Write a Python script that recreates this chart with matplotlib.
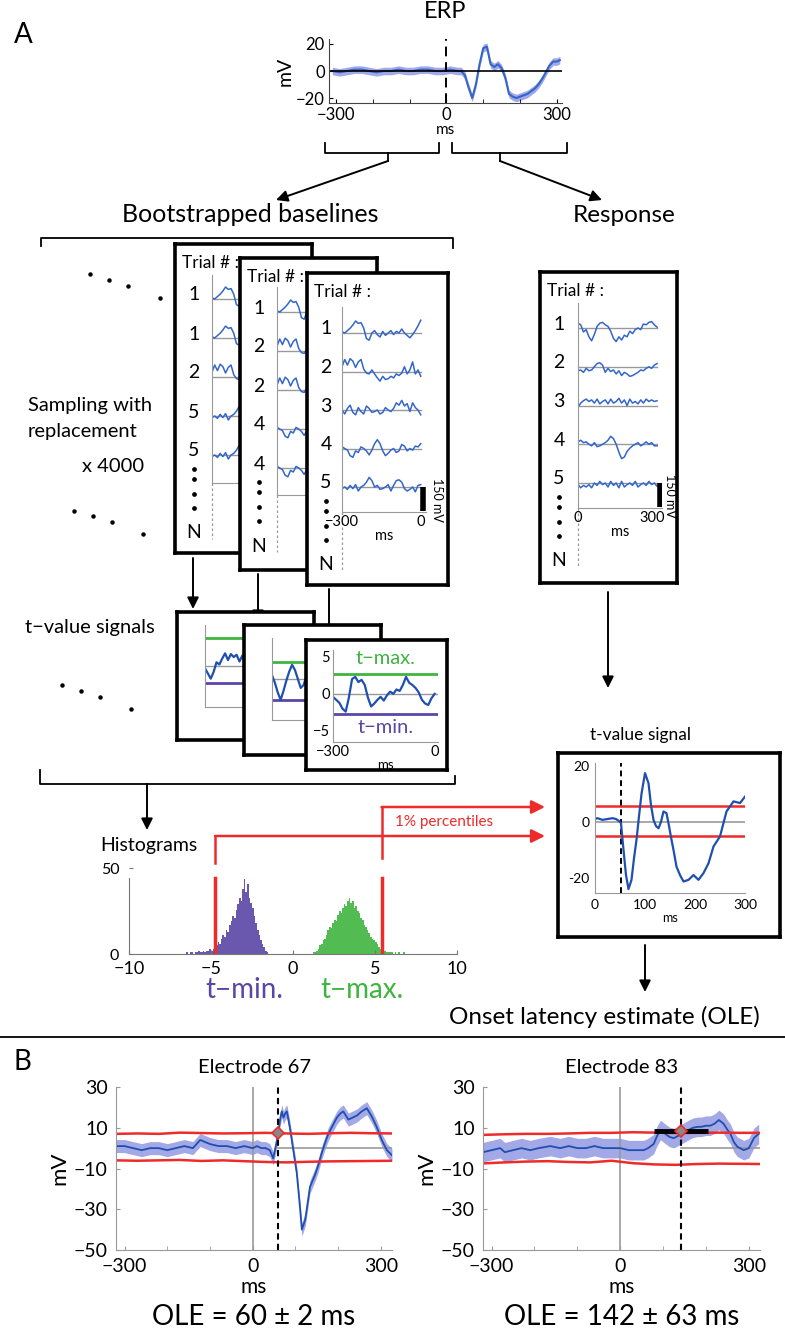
import numpy as np
import matplotlib.pyplot as plt

plt.rcParams['font.family'] = ['Lato', 'DejaVu Sans']

# ---------------- data ----------------
# grand average ERP (top)
erp_t = [-310, -290, -270, -250, -230, -210, -190, -170, -150, -130, -110, -90, -70, -50, -30, -10,
         10, 30, 40, 50, 60, 70, 80, 90, 100, 110, 120, 130, 140, 150, 160, 170, 180, 190, 200,
         210, 220, 230, 240, 250, 260, 270, 280, 290, 300, 308]
erp_v = [0, -1, 0, 1, 1, 0, -1, 0, 0, 1, 0, 0, 1, 1, 0, 0,
         1, 0, 0, -3, -12, -20, -10, 5, 17, 18, 5, 3, 5, 2, -5, -17, -19, -20, -19,
         -18, -17, -15, -13, -10, -6, -1, 4, 7, 7, 8]
erp_sem = 2.8

# single trials (-300..0 ms baseline, mV)
trial_1 = [8, 0, 15, 30, 50, 75, 60, 65, 30, -35, -45, 0, 15, -10, -25, 10, -15, 0, 15, -10,
           10, 0, 25, 0, -15, -30, -10, 15, 45, 80]
trial_2 = [30, 75, 40, 80, 65, 25, 60, 75, 15, -10, -15, 10, -15, -40, -60, -30, -50, -45, -30, -40,
           -15, -25, -10, 30, -15, 10, 60, -15, 10, -30]
trial_3 = [0, -25, 10, 30, -15, -30, 15, -10, -25, 25, 10, -15, -10, 0, -25, -15, 15, 0, -10, 10,
           45, 30, 60, 25, 40, -10, 45, 15, 0, -30]
trial_4 = [10, 0, -10, -45, -55, -15, -25, 10, 0, -15, -40, -10, 30, 55, 30, -15, -45, -30, -10, 0,
           -25, -15, 25, 15, -15, 0, -10, 15, 10, 30]
trial_5 = [-10, 0, -15, 10, -10, 15, -25, 0, 10, 30, 60, 40, 0, 10, -15, -10, 0, 15, -25, 10,
           40, 45, 30, -10, -25, -15, 0, -30, 10, 15]
boot_sets = [[1, 1, 2, 5, 5], [1, 2, 2, 4, 4], [1, 2, 3, 4, 5]]

# response trials (0..300 ms)
resp_1 = [30, 20, -25, -10, -55, -80, -40, 10, 30, 35, 20, 10, -20, -65, -85, -55, -75, -45, -55, -20,
          -35, -10, 0, -10, 25, 20, 35, 40, 20, 5]
resp_2 = [-25, -20, -35, -10, -25, -20, 0, 20, 25, 10, -35, -10, -30, -20, -45, -25, -55, -35, -45, -60,
          -55, -45, -35, -20, -25, -10, 0, -10, 10, 20]
resp_3 = [-10, 15, 30, 40, 25, 35, 15, 40, 10, 25, 35, 10, 40, 15, 25, 45, 15, 35, 0, 40,
          15, 25, 10, 35, 15, 40, 25, 35, 25, 30]
resp_4 = [15, 25, 10, 15, 0, -10, 10, -15, -10, 0, 10, 25, 50, 35, 0, -50, -90, -80, -45, -25,
          -10, 0, 10, -10, 0, 15, 0, 10, -10, -10]
resp_5 = [-10, -30, -15, -25, -10, -30, 0, -15, 10, -10, 0, -25, 10, -15, 0, -30, 10, -25, -10, 0,
          -15, 10, -25, -10, 0, -15, 10, -10, 0, -20]

# bootstrapped t-value signals
tval_1 = [-0.3, -1.0, -1.7, -0.8, 0.5, 0.2, 1.0, 1.7, 0.8, 1.6, 1.2, 1.5, 0.6, 1.4, 0.2, -0.5,
          0.6, 1.0, -0.3, 0.4, 1.2, 0.5, -0.8, -0.2, 0.8, 1.5, 0.7, 0.0, -1.0, -0.4, 0.5, 0.2, -0.6]
tval_2 = [0.5, -0.5, -1.8, -2.8, -1.6, -0.2, 1.0, 1.9, 1.2, 0.0, -1.2, -0.8, 0.4, 1.1, 0.3, -0.6,
          0.9, 1.6, 0.7, -0.4, 0.2, 1.3, 0.5, -1.0, -0.3, 0.6, -0.2, 0.9, 1.4, 0.3, -0.7, 0.1, 0.8]
tval_3 = [-0.4, -0.8, -1.2, -2.0, -2.4, -0.5, 2.0, 2.3, 1.6, 1.9, 1.2, -0.5, -1.7, -1.3, -0.8, -0.4,
          -0.9, -0.2, 0.3, 0.0, 0.6, 0.4, 1.2, 2.3, 1.5, 1.2, 0.8, 0.2, -0.8, -1.3, -1.5, -0.6, 0.0]
tmax_lines = [3.7, 2.3, 2.7]
tmin_lines = [-2.3, -2.8, -2.7]

# histograms of t-min / t-max (bin width 0.1)
hmin_start = -6.6
hmin_counts = [0, 1, 0, 1, 1, 0, 1, 1, 2, 1, 1, 2, 1, 2, 2, 3, 2, 3,
               4, 5, 7, 6, 9, 11, 10, 14, 13, 17, 19, 22, 21, 26, 29, 33, 31, 38, 44, 36,
               41, 33, 30, 27, 22, 18, 14, 11, 8, 6, 4, 2, 1, 0]
hmax_start = 1.2
hmax_counts = [1, 1, 2, 3, 5, 6, 8, 9, 11, 14, 16, 15, 18, 20, 19, 23, 25, 24, 27, 29,
               28, 31, 33, 30, 31, 27, 28, 25, 24, 21, 20, 17, 16, 14, 12, 10, 9, 8, 7, 6,
               4, 3, 3, 2, 2, 1, 1, 1, 1, 0, 1, 0, 1, 0, 0, 1, 0, 0, 0, 0]
pct_lo, pct_hi = -4.75, 5.4

# response t-value signal
sig_t = [0, 5, 15, 25, 35, 42, 48, 52, 57, 62, 67, 73, 78, 83, 88, 93, 100, 107, 112, 117, 122, 127,
         132, 137, 143, 148, 153, 158, 163, 170, 177, 187, 197, 207, 217, 227, 237, 250, 263, 277,
         290, 300]
sig_v = [1.0, 1.3, 0.7, 1.0, 1.3, 1.0, 0.3, -0.5, -10, -19, -24, -20.7, -13, -6.4, 2, 10, 17.4,
         13.8, 6, 0.7, -1.5, -2.3, 0, 3.7, 3.1, -1.5, -6.4, -11, -16, -19, -21.3, -20.7, -19,
         -20.7, -18.3, -14.8, -8.8, -5.2, 3.7, 7.3, 6.7, 9]
sig_hi, sig_lo, sig_ole = 5.7, -5.0, 52

# panel B
e67_t = [-320, -300, -280, -260, -240, -220, -200, -180, -160, -140, -123, -100, -80, -60, -40, -20,
         0, 10, 20, 30, 40, 48, 55, 60, 64, 68, 72, 76, 80, 87, 95, 103, 111, 115, 123, 134, 146,
         154, 162, 170, 177, 187, 197, 205, 212, 224, 234, 244, 255, 267, 280, 290, 302, 314, 326]
e67_v = [1, 1, 0, -1, 0, 0, -1, 0, 1, 0, 4, 2, 1, 1, 0, 1,
         0, 1, 0, 0, -1, -5, 2, 7.5, 14, 18, 15, 17, 18, 10, -1, -12, -30, -40, -35, -19, -13,
         -8, -2, 3, 7, 11, 15, 17, 18, 14, 15, 16, 18, 19.6, 15, 10.5, 4, -1, -3.5]
e83_t = [-320, -300, -280, -269, -250, -230, -210, -190, -163, -140, -120, -100, -80, -60, -40, -20,
         0, 20, 40, 55, 65, 78, 86, 94, 105, 115, 125, 135, 148, 160, 170, 179, 190, 200, 210,
         220, 230, 241, 250, 257, 265, 273, 288, 300, 312, 323]
e83_v = [-2, -1, 0, -2, -1, 0, -1, 0, 1, 0, 1, 0, 0, 1, 0, 0,
         0, -1, -1, -1, 0, 2, 6, 8.9, 7, 5.5, 4.9, 6, 7.5, 9, 10, 10.4, 10.5, 11, 11,
         12, 13.8, 12, 9, 7, 3, 0.7, -1, 0, 5, 7]
e67_sem, e83_sem = 3.2, 4.8
thr_t = [-320, -270, -220, -170, -120, -70, -20, 30, 80, 130, 180, 230, 280, 326]
e67_hi = [7.0, 7.2, 7.0, 7.6, 7.4, 7.2, 7.3, 7.5, 7.2, 7.0, 7.3, 7.5, 7.3, 7.2]
e67_lo = [-6.0, -6.2, -6.0, -5.8, -6.3, -6.0, -6.4, -6.8, -7.0, -6.7, -6.5, -6.4, -6.3, -6.2]
e83_hi = [6.5, 6.8, 7.0, 7.0, 7.2, 7.5, 7.5, 7.8, 7.6, 7.4, 7.5, 7.6, 7.5, 7.5]
e83_lo = [-7.5, -7.0, -6.6, -6.4, -6.8, -7.0, -6.2, -7.4, -8.0, -8.2, -7.8, -7.6, -7.7, -7.8]
ole_ms = [60, 142]
ole_err = [2, 63]
ole_amp = [7.5, 8.5]

# ---------------- figure ----------------
W, H = 785, 1330
fig = plt.figure(figsize=(W / 100, H / 100), dpi=100)

BLUE = '#3366cc'
DBLUE = '#1f4fb0'
SHADE = '#a3a8e6'
RED = '#ee2a2a'
GREEN = '#3fb43f'
PURPLE = '#5a46a6'
GRAY = '#999999'


def px_axes(x0, y0, x1, y1, z):
    return fig.add_axes([x0 / W, 1 - y1 / H, (x1 - x0) / W, (y1 - y0) / H], zorder=z)


def boxed(x0, y0, x1, y1, z):
    b = px_axes(x0, y0, x1, y1, z)
    b.set_xlim(x0, x1)
    b.set_ylim(y1, y0)
    b.set_xticks([])
    b.set_yticks([])
    for s in b.spines.values():
        s.set_linewidth(2.6)
    b.set_facecolor('white')
    return b


def inner(x0, y0, x1, y1, z):
    a = px_axes(x0, y0, x1, y1, z)
    a.patch.set_alpha(0)
    a.spines[['top', 'right']].set_visible(False)
    a.spines[['left', 'bottom']].set_color(GRAY)
    a.tick_params(length=0, labelsize=10.5, pad=2)
    return a


bg = px_axes(0, 0, W, H, 0)
bg.set_xlim(0, W)
bg.set_ylim(H, 0)
bg.axis('off')


def arrow(x0, y0, x1, y1, color='k', lw=1.4, ms=17):
    bg.annotate('', xy=(x1, y1), xytext=(x0, y0),
                arrowprops=dict(arrowstyle='-|>', color=color, lw=lw, mutation_scale=ms,
                                shrinkA=0, shrinkB=0))


def dots(pts):
    for x, y in pts:
        bg.plot(x, y, 'o', color='k', ms=2.2)


# ---- labels & connectors ----
bg.text(14, 35, 'A', fontsize=20, va='center')
bg.text(445, 12, 'ERP', fontsize=17, ha='center', va='center')
bg.plot([325, 325, 439, 439], [143, 153, 153, 143], 'k', lw=1.3)
bg.plot([388, 388], [153, 161], 'k', lw=1.3)
bg.plot([452, 452, 567, 567], [143, 153, 153, 143], 'k', lw=1.3)
bg.plot([500, 500], [153, 161], 'k', lw=1.3)
arrow(388, 161, 276, 200)
arrow(500, 161, 602, 200)
bg.text(250, 215, 'Bootstrapped baselines', fontsize=18, ha='center', va='center')
bg.text(624, 215, 'Response', fontsize=17.5, ha='center', va='center')
bg.plot([41, 41, 453, 453], [246, 238, 238, 248], 'k', lw=1.3)
dots([(90, 274), (109, 280), (128, 286), (160, 298)])
bg.text(28, 405, 'Sampling with', fontsize=14.5, va='center')
bg.text(28, 432, 'replacement', fontsize=14.5, va='center')
bg.text(82, 467, 'x 4000', fontsize=14.5, va='center')
dots([(74, 511), (93, 516), (112, 522), (143, 534)])
arrow(193, 558, 193, 609)
arrow(258, 574, 258, 622)
arrow(329, 589, 329, 637)
bg.text(25, 627, 't\u2212value signals', fontsize=14.5, va='center')
dots([(62, 685), (81, 691), (100, 697), (131, 709)])
bg.plot([40, 40, 455, 455], [770, 784, 784, 776], 'k', lw=1.3)
arrow(147, 784, 147, 830)
bg.text(100, 845, 'Histograms', fontsize=14, va='center')
arrow(608, 592, 608, 688)
bg.text(641, 735, 't-value signal', fontsize=12.5, ha='center', va='center')
arrow(645, 945, 645, 992)
bg.text(604, 1017, 'Onset latency estimate (OLE)', fontsize=17.5, ha='center', va='center')
bg.plot([0, W], [1037, 1037], 'k', lw=1.3)
bg.text(14, 1062, 'B', fontsize=20, va='center')

# ---- ERP ----
ax = px_axes(329, 39, 562, 103, 1)
ax.patch.set_alpha(0)
ev = np.array(erp_v, float)
ax.fill_between(erp_t, ev - erp_sem, ev + erp_sem, color=SHADE, lw=0)
ax.plot(erp_t, ev, color=BLUE, lw=1.5)
ax.axhline(0, color='k', lw=1.2)
ax.axvline(0, color='k', lw=1.4, ls=(0, (5, 3)))
ax.set_xlim(-319, 314)
ax.set_ylim(-23.7, 23.7)
ax.spines[['top', 'right']].set_visible(False)
ax.spines[['left', 'bottom']].set_color('#444444')
ax.set_xticks([-300, 0, 300])
ax.set_xticks([-200, -100, 100, 200], minor=True)
ax.set_yticks([20, 0, -20])
ax.tick_params(which='both', direction='in', length=3, labelsize=12, pad=3)
ax.set_xlabel('ms', fontsize=11, labelpad=0)
ax.set_ylabel('mV', fontsize=14, labelpad=2)

# ---- single-trial panels ----
MV_PX = 6.25
trials = {1: trial_1, 2: trial_2, 3: trial_3, 4: trial_4, 5: trial_5}
resp = {1: resp_1, 2: resp_2, 3: resp_3, 4: resp_4, 5: resp_5}
t_base = np.linspace(-300, 0, 30)
t_resp = np.linspace(0, 320, 30)


def trial_panel(box, ax_x, top, base, step, bottom, ids, traces, t, xlim, z,
                ticks=None, bar=None, bar_xy=None):
    x0, y0, x1, y1 = box
    b = boxed(x0, y0, x1, y1, z)
    b.text(x0 + 7, y0 + 19, 'Trial # :', fontsize=12.5, va='center')
    nx = x0 + 19
    for i, n in enumerate(ids):
        b.text(nx, base + i * step - 4, str(n), fontsize=14, ha='center', va='center')
    last = base + 4 * step - 4
    for off in (18, 28, 43, 57):
        b.plot(nx, last + off, 'o', color='k', ms=2.4)
    b.text(nx, last + 82, 'N', fontsize=14, ha='center', va='center')
    b.plot([ax_x, ax_x], [bottom, last + 88], color=GRAY, lw=0.9, ls=(0, (2, 2)))
    a = inner(ax_x, top, ax_x + 84, bottom, z + 1)
    a.set_xlim(*xlim)
    a.set_ylim((base - bottom) * MV_PX, (base - top) * MV_PX)
    for i, n in enumerate(ids):
        off = -i * step * MV_PX
        a.plot([t[0], t[-1]], [off, off], color=GRAY, lw=1)
        a.plot(t, np.array(traces[n]) + off, color=BLUE, lw=1.1)
    if ticks is None:
        a.set_xticks([])
    else:
        a.set_xticks(ticks)
        a.set_xticklabels([str(v).replace('-', '\u2212') for v in ticks])
        a.set_xlabel('ms', fontsize=10.5, labelpad=0)
    a.set_yticks([])
    if bar is not None:
        yb = -4 * step * MV_PX
        a.plot([bar, bar], [yb, yb - 150], color='k', lw=4, solid_capstyle='butt')
        b.text(bar_xy[0], bar_xy[1], '150 mV', fontsize=9, rotation=-90, ha='center', va='center')


trial_panel((175, 244, 312, 553), 212, 275, 299, 39.0, 483, boot_sets[0], trials, t_base,
            (-300, 20), 2)
trial_panel((240, 258, 377, 570), 277, 287, 312, 39.0, 495, boot_sets[1], trials, t_base,
            (-300, 20), 4)
trial_panel((307, 273, 448, 585), 342, 307, 333, 38.5, 512, boot_sets[2], trials, t_base,
            (-300, 20), 6, ticks=[-300, 0], bar=8, bar_xy=(437, 500))
trial_panel((540, 272, 677, 583), 578, 303, 328, 38.75, 508, [1, 2, 3, 4, 5], resp, t_resp,
            (0, 340), 8, ticks=[0, 300], bar=330, bar_xy=(670, 496))

# ---- t-value signal panels ----
tvals = [tval_1, tval_2, tval_3]
t_tv = np.linspace(-300, 0, 33)
tboxes = [(177, 612, 314, 740), (244, 625, 381, 755), (306, 640, 447, 770)]
tinner = [(205, 625, 300, 707, (-5.5, 5.5)), (272, 638, 367, 720, (-5.5, 5.5)),
          (333, 650, 438, 742, (-6.5, 5.93))]
for k in range(3):
    boxed(*tboxes[k], 10 + 2 * k)
    x0, y0, x1, y1, yl = tinner[k]
    a = inner(x0, y0, x1, y1, 11 + 2 * k)
    a.set_xlim(-300, 10)
    a.set_ylim(*yl)
    a.axhline(0, color=GRAY, lw=1)
    a.axhline(tmax_lines[k], color=GREEN, lw=2)
    a.axhline(tmin_lines[k], color=PURPLE, lw=2)
    a.plot(t_tv, tvals[k], color=DBLUE, lw=1.6)
    if k < 2:
        a.set_xticks([])
        a.set_yticks([])
    else:
        a.set_yticks([5, 0, -5])
        a.set_xticks([-300, 0])
        a.set_xlabel('ms', fontsize=9.5, labelpad=0)
        a.text(0.5, 0.91, 't\u2212max.', color=GREEN, fontsize=14.5, ha='center', va='center',
               transform=a.transAxes)
        a.text(0.5, 0.16, 't\u2212min.', color=PURPLE, fontsize=14.5, ha='center', va='center',
               transform=a.transAxes)

# ---- histograms ----
hx0, hx1 = 129, 457
ax = px_axes(hx0, 865, hx1, 954, 1)
ax.patch.set_alpha(0)
emin = np.round(hmin_start + 0.1 * np.arange(len(hmin_counts) + 1), 2)
emax = np.round(hmax_start + 0.1 * np.arange(len(hmax_counts) + 1), 2)
ax.stairs(hmin_counts, emin, fill=True, color=PURPLE, alpha=0.9)
ax.stairs(hmax_counts, emax, fill=True, color=GREEN, alpha=0.9)
ax.plot([pct_lo, pct_lo], [0, 44.5], color=RED, lw=2.5)
ax.plot([pct_hi, pct_hi], [0, 44.5], color=RED, lw=2.5)
ax.set_xlim(-10, 10)
ax.set_ylim(0, 52)
ax.spines[['top', 'right']].set_visible(False)
ax.spines[['left', 'bottom']].set_color('#777777')
ax.spines['left'].set_bounds(0, 44.5)
ax.set_xticks([-10, -5, 0, 5, 10])
ax.set_yticks([0, 50])
ax.tick_params(direction='in', length=3, labelsize=13, color='#777777', pad=5)
ax.tick_params(axis='y', labelsize=11.5, pad=7)

px_lo = hx0 + (pct_lo + 10) / 20 * (hx1 - hx0)
px_hi = hx0 + (pct_hi + 10) / 20 * (hx1 - hx0)
bg.plot([px_lo, px_lo], [863, 836], color=RED, lw=1.8)
bg.plot([px_hi, px_hi], [858, 807], color=RED, lw=1.8)
arrow(px_lo, 836, 545, 836, color=RED, lw=1.8, ms=20)
arrow(px_hi, 807, 545, 807, color=RED, lw=1.8, ms=20)
bg.text(395, 822, '1% percentiles', color=RED, fontsize=11, va='center')
bg.text(244, 990, 't\u2212min.', color=PURPLE, fontsize=20, ha='center', va='center')
bg.text(362, 990, 't\u2212max.', color=GREEN, fontsize=20, ha='center', va='center')

# ---- response t-value signal ----
boxed(558, 753, 780, 937, 20)
a = px_axes(595, 763, 745, 893, 21)
a.patch.set_alpha(0)
a.spines[['top', 'right']].set_visible(False)
a.spines[['left', 'bottom']].set_color(GRAY)
a.axhline(0, color=GRAY, lw=1.2)
a.axhline(sig_hi, color=RED, lw=1.8)
a.axhline(sig_lo, color=RED, lw=1.8)
a.axvline(sig_ole, color='k', lw=1.4, ls=(0, (3, 2)))
a.plot(sig_t, sig_v, color=DBLUE, lw=1.6)
a.set_xlim(0, 300)
a.set_ylim(-25.4, 21)
a.set_xticks([0, 100, 200, 300])
a.set_yticks([20, 0, -20])
a.set_yticklabels(['20', '0', '-20'])
a.tick_params(length=0, labelsize=10, pad=4)
a.set_xlabel('ms', fontsize=9, labelpad=1)

# ---- panel B ----
bspecs = [(116, 392, 'Electrode 67', e67_t, e67_v, e67_sem, e67_hi, e67_lo),
          (483, 760, 'Electrode 83', e83_t, e83_v, e83_sem, e83_hi, e83_lo)]
for k, (x0, x1, title, tt, vv, sem, hi, lo) in enumerate(bspecs):
    a = px_axes(x0, 1087, x1, 1250, 30)
    a.patch.set_alpha(0)
    vv = np.array(vv, float)
    a.axvline(0, color=GRAY, lw=1.2)
    a.plot([ole_ms[k], 326], [0, 0], color=GRAY, lw=1.2)
    a.fill_between(tt, vv - sem, vv + sem, color=SHADE, lw=0)
    a.plot(tt, vv, color=DBLUE, lw=1.3)
    a.plot(thr_t, hi, color=RED, lw=1.8)
    a.plot(thr_t, lo, color=RED, lw=1.8)
    a.axvline(ole_ms[k], color='k', lw=1.5, ls=(0, (3, 2)))
    if ole_err[k] > 5:
        a.plot([ole_ms[k] - ole_err[k], ole_ms[k] + ole_err[k]], [ole_amp[k], ole_amp[k]],
               color='k', lw=3.5, solid_capstyle='butt')
    a.plot(ole_ms[k], ole_amp[k], marker='D', ms=6, mfc='#888888', mec=RED, mew=1.2)
    a.set_xlim(-320, 326)
    a.set_ylim(-50, 30)
    a.spines[['top', 'right']].set_visible(False)
    a.spines[['left', 'bottom']].set_color(GRAY)
    a.set_xticks([-300, 0, 300])
    a.set_xticks([-200, -100, 100, 200], minor=True)
    a.set_yticks([30, 10, -10, -30, -50])
    a.tick_params(which='both', direction='in', length=3, color=GRAY, labelsize=14)
    a.tick_params(axis='x', pad=6)
    a.tick_params(axis='y', pad=6)
    a.set_xlabel('ms', fontsize=15, labelpad=1)
    a.set_ylabel('mV', fontsize=16, labelpad=3)
    a.set_title(title, fontsize=14.5, pad=10)
    a.text(0.5, -0.41, 'OLE = %d \u00b1 %d ms' % (ole_ms[k], ole_err[k]), fontsize=20,
           ha='center', va='center', transform=a.transAxes)

fig.savefig('out.png', dpi=100)
